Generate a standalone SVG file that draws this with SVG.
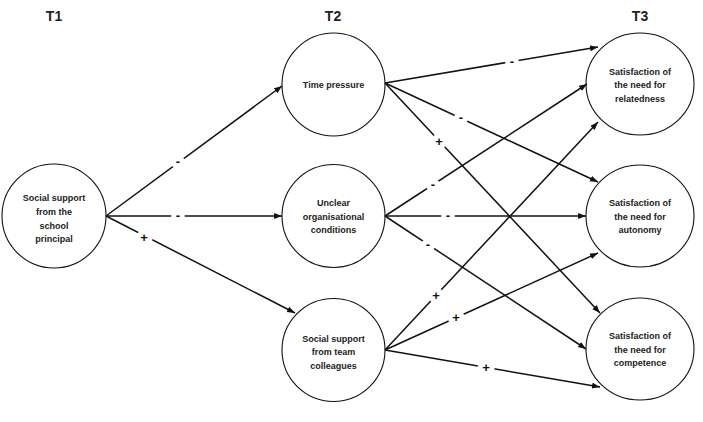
<svg xmlns="http://www.w3.org/2000/svg" width="703" height="422" viewBox="0 0 703 422">
<style>
.hdr{font-family:"Liberation Sans",Arial,sans-serif;font-size:14px;font-weight:bold;fill:#222;text-anchor:middle}
.node{fill:#fff;stroke:#111;stroke-width:1.1}
.lbl{font-family:"Liberation Sans",Arial,sans-serif;font-size:9px;font-weight:bold;fill:#222;text-anchor:middle}
.edge{stroke:#111;stroke-width:1.5;fill:none;marker-end:url(#arr)}
.sign{font-family:"Liberation Sans",Arial,sans-serif;font-size:13px;font-weight:bold;fill:#111;text-anchor:middle;stroke:#fff;stroke-width:10;stroke-linejoin:round;paint-order:stroke}
</style>
<defs>
<marker id="arr" markerUnits="userSpaceOnUse" markerWidth="9" markerHeight="7" refX="8" refY="3" orient="auto">
<path d="M0,0 L8,3 L0,6 z" fill="#111"/>
</marker>
</defs>
<rect width="703" height="422" fill="#fff"/>
<g id="headers">
<text class="hdr" x="54" y="21">T1</text>
<text class="hdr" x="333" y="21">T2</text>
<text class="hdr" x="640" y="21">T3</text>
</g>
<g id="n-principal">
<circle class="node" cx="54" cy="216" r="52"/>
<text class="lbl" x="54" y="201">Social support</text>
<text class="lbl" x="54" y="215">from the</text>
<text class="lbl" x="54" y="228.5">school</text>
<text class="lbl" x="54" y="242">principal</text>
</g>
<g id="n-time">
<circle class="node" cx="333.5" cy="84.5" r="51.5"/>
<text class="lbl" x="333.5" y="88">Time pressure</text>
</g>
<g id="n-unclear">
<circle class="node" cx="333.5" cy="216" r="51.5"/>
<text class="lbl" x="333.5" y="206">Unclear</text>
<text class="lbl" x="333.5" y="219.5">organisational</text>
<text class="lbl" x="333.5" y="233">conditions</text>
</g>
<g id="n-team">
<circle class="node" cx="333.5" cy="350" r="51.5"/>
<text class="lbl" x="333.5" y="341.5">Social support</text>
<text class="lbl" x="333.5" y="355">from team</text>
<text class="lbl" x="333.5" y="368.5">colleagues</text>
</g>
<g id="n-relatedness">
<ellipse class="node" cx="640" cy="84" rx="54" ry="51"/>
<text class="lbl" x="640" y="74.5">Satisfaction of</text>
<text class="lbl" x="640" y="88">the need for</text>
<text class="lbl" x="640" y="101.5">relatedness</text>
</g>
<g id="n-autonomy">
<ellipse class="node" cx="640" cy="216" rx="54" ry="51"/>
<text class="lbl" x="640" y="206">Satisfaction of</text>
<text class="lbl" x="640" y="219.5">the need for</text>
<text class="lbl" x="640" y="233">autonomy</text>
</g>
<g id="n-competence">
<ellipse class="node" cx="640" cy="349" rx="54" ry="51"/>
<text class="lbl" x="640" y="339">Satisfaction of</text>
<text class="lbl" x="640" y="352.5">the need for</text>
<text class="lbl" x="640" y="366">competence</text>
</g>
<g id="connectors">
<line class="edge" x1="106" y1="216" x2="282" y2="86"/>
<line class="edge" x1="106" y1="216" x2="282" y2="216"/>
<line class="edge" x1="106" y1="216" x2="295" y2="313"/>
<line class="edge" x1="385" y1="83" x2="598" y2="47"/>
<line class="edge" x1="385" y1="83" x2="598" y2="182"/>
<line class="edge" x1="385" y1="83" x2="600" y2="313"/>
<line class="edge" x1="385" y1="216" x2="587" y2="84"/>
<line class="edge" x1="385" y1="216" x2="586" y2="216"/>
<line class="edge" x1="385" y1="216" x2="586" y2="349"/>
<line class="edge" x1="385" y1="350" x2="598" y2="122"/>
<line class="edge" x1="385" y1="350" x2="598" y2="253"/>
<line class="edge" x1="385" y1="350" x2="600" y2="387"/>
<text class="sign" x="178" y="165.5">-</text>
<text class="sign" x="178" y="220">-</text>
<text class="sign" x="144" y="241.5">+</text>
<text class="sign" x="512" y="65.5">-</text>
<text class="sign" x="461" y="122">-</text>
<text class="sign" x="439" y="145.5">+</text>
<text class="sign" x="433" y="188.5">-</text>
<text class="sign" x="448" y="220">-</text>
<text class="sign" x="428" y="248.5">-</text>
<text class="sign" x="436" y="299.5">+</text>
<text class="sign" x="456" y="322">+</text>
<text class="sign" x="486" y="372">+</text>
</g>
</svg>
